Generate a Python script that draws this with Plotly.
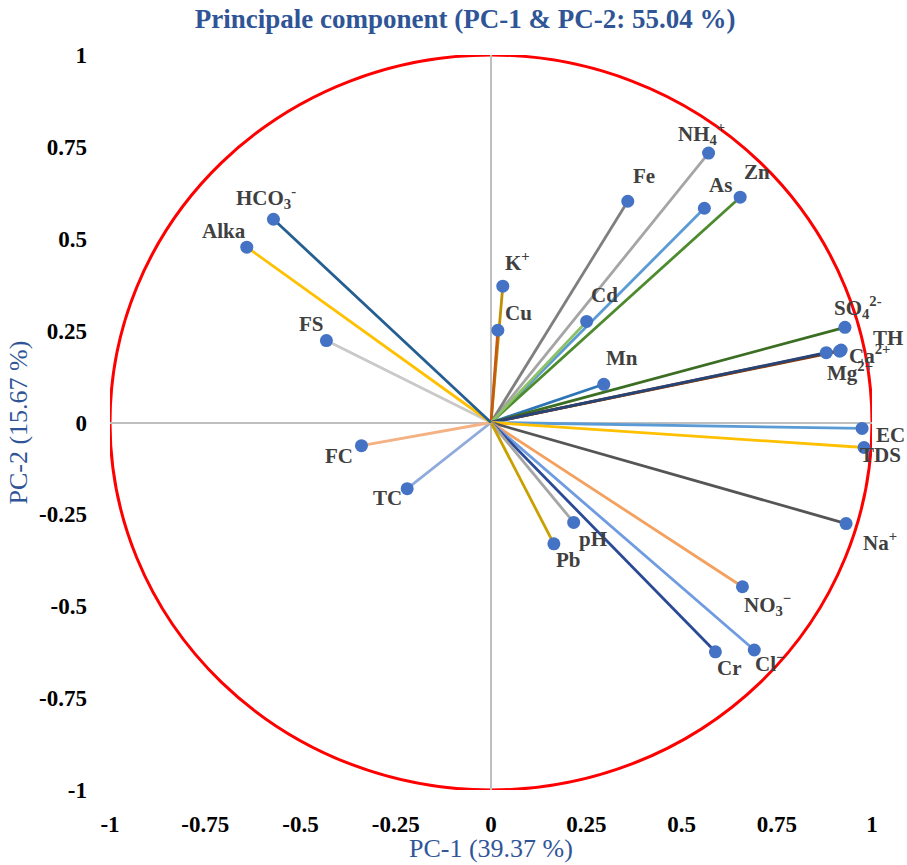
import plotly.graph_objects as go

# ---- data ----
variables = ["NH<sub>4</sub><sup>+</sup>", "Fe", "As", "Zn", "K<sup>+</sup>", "Cu", "Cd", "Mn",
             "SO<sub>4</sub><sup>2-</sup>", "TH", "Ca<sup>2+</sup>", "Mg<sup>2+</sup>", "EC", "TDS",
             "Na<sup>+</sup>", "NO<sub>3</sub><sup>−</sup>", "Cl<sup>−</sup>", "Cr", "pH", "Pb",
             "TC", "FC", "FS", "Alka", "HCO<sub>3</sub><sup>-</sup>"]
pc1 = [0.571, 0.359, 0.560, 0.654, 0.031, 0.018, 0.251, 0.296,
       0.929, 0.919, 0.915, 0.880, 0.974, 0.979,
       0.932, 0.660, 0.691, 0.589, 0.217, 0.165,
       -0.220, -0.340, -0.432, -0.641, -0.571]
pc2 = [0.733, 0.602, 0.583, 0.613, 0.371, 0.251, 0.275, 0.104,
       0.259, 0.197, 0.194, 0.190, -0.016, -0.068,
       -0.275, -0.447, -0.619, -0.624, -0.272, -0.330,
       -0.180, -0.063, 0.223, 0.477, 0.553]
tick_vals = [-1, -0.75, -0.5, -0.25, 0, 0.25, 0.5, 0.75, 1]
tick_text = ["-1", "-0.75", "-0.5", "-0.25", "0", "0.25", "0.5", "0.75", "1"]

# ---- styles ----
line_colors = ["#A5A5A5", "#7F7F7F", "#5B9BD5", "#4E8A2E", "#BF9000", "#C55A11", "#8CC168", "#2E75B6",
               "#3B6E22", "#9E480E", "#843C0C", "#264478", "#5B9BD5", "#FFC000",
               "#555555", "#F4A05E", "#6F9BE0", "#2A4A96", "#A5A5A5", "#C9A000",
               "#8FAADC", "#F4B183", "#C9C9C9", "#FFC000", "#255E91"]
label_dx = [-7, 16, 16, 17, 15, 21, 18, 18, 13, 47, 30, 24, 28, 16, 34, 25, 15, 14, 19, 15, -20, -22, -15, -23, -7]
label_dy = [20, 25, 23, 25, 25, 17, 26, 26, 20, 12, -3, -19, -7, -8, -18, -18, -13, -16, -17, -16, -9, -10, 17, 16, 22]

serif = "Liberation Serif, Times New Roman, serif"
blue_txt = "#2F5597"
fig = go.Figure()

# unit circle
fig.add_shape(type="circle", xref="x", yref="y", x0=-1, y0=-1, x1=1, y1=1,
              line=dict(color="#FF0000", width=3), layer="below")

# vectors
for name, x, y, c in zip(variables, pc1, pc2, line_colors):
    fig.add_trace(go.Scatter(x=[0, x], y=[0, y], mode="lines",
                             line=dict(color=c, width=2.8), hoverinfo="skip", showlegend=False))

# endpoints
fig.add_trace(go.Scatter(x=pc1, y=pc2, mode="markers",
                         marker=dict(color="#4472C4", size=13), text=variables,
                         hoverinfo="text", showlegend=False))

for name, x, y, dx, dy in zip(variables, pc1, pc2, label_dx, label_dy):
    fig.add_annotation(x=x, y=y, text="<b>" + name + "</b>", showarrow=False,
                       xshift=dx, yshift=dy,
                       font=dict(family=serif, size=21, color="#404040"))

# axis titles
fig.add_annotation(xref="paper", yref="paper", x=0.5, y=0, yanchor="middle", yshift=-58,
                   text="PC-1 (39.37 %)", showarrow=False,
                   font=dict(family=serif, size=26, color=blue_txt))
fig.add_annotation(xref="paper", yref="paper", x=0, y=0.5, xanchor="center", xshift=-92,
                   text="PC-2 (15.67 %)", textangle=-90, showarrow=False,
                   font=dict(family=serif, size=26, color=blue_txt))

axis_common = dict(range=[-1, 1], tickvals=tick_vals,
                   ticktext=["<b>" + t + "</b>" for t in tick_text],
                   showgrid=False, zeroline=True, zerolinecolor="#BFBFBF", zerolinewidth=1.5,
                   showline=False, ticks="",
                   tickfont=dict(family=serif, size=23, color="black"))

fig.update_layout(
    width=907, height=865,
    margin=dict(l=110, r=35, t=55, b=75),
    paper_bgcolor="white", plot_bgcolor="white",
    title=dict(text="<b>Principale component (PC-1 &amp; PC-2: 55.04 %)</b>",
               xref="paper", x=0.466, xanchor="center", y=1 - 19 / 865, yanchor="middle",
               font=dict(family=serif, size=27, color=blue_txt)),
    xaxis=dict(**axis_common, ticklabelstandoff=18),
    yaxis=dict(**axis_common, ticklabelstandoff=22),
)

fig.write_html("out.html", config={"displayModeBar": False},
               post_script="document.body.style.margin='0';document.body.style.overflow='hidden';")
